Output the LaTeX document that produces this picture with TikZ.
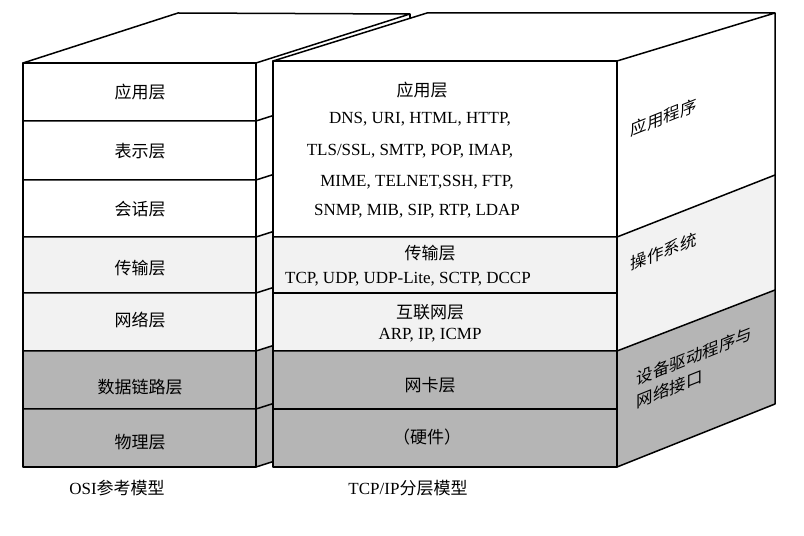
\documentclass[tikz,border=0pt]{standalone}
\usepackage{fontspec}
\setmainfont{Liberation Serif}
\newfontfamily\cjk{Noto Sans CJK SC}
\usetikzlibrary{calc}
\definecolor{lightband}{gray}{0.95}
\definecolor{darkband}{gray}{0.71}

\begin{document}
\begin{tikzpicture}[x=1pt,y=1pt,line width=1.5pt,line join=round,
    lab/.style={font=\cjk\fontsize{17}{19}\selectfont},
    proto/.style={font=\fontsize{17}{20}\selectfont},
    side/.style={font=\cjk\fontsize{16.5}{23}\selectfont,yslant=0.4,anchor=west,align=left,inner sep=0pt}]
    \useasboundingbox (0,0) rectangle (804,536);
    % --- OSI model: fills
    \fill[white] (23,299) rectangle (256,473);
    \fill[lightband] (23,185) rectangle (256,299);
    \fill[darkband] (23,69) rectangle (256,185);
    \foreach \ya/\yb/\c in {473/299/white,299/185/lightband,185/69/darkband}{
      \fill[\c] (256,\ya) -- (410,\ya+49) -- (410,\yb+49) -- (256,\yb) -- cycle;
    }
    \fill[white] (23,473) -- (178,523) -- (410,522) -- (256,473) -- cycle;
    % --- OSI model: lines
    \draw (23,473) -- (178,523) -- (410,522) -- (256,473);
    \draw (410,522) -- (410,118);
    \draw (23,69) rectangle (256,473);
    \foreach \y in {415,356,299,243,185,127}{\draw (23,\y) -- (256,\y) -- ++(154,49);}
    \draw (256,69) -- ++(154,49);
    % --- TCP/IP model: fills
    \fill[white] (273,299) rectangle (617,475);
    \fill[lightband] (273,185) rectangle (617,299);
    \fill[darkband] (273,69) rectangle (617,185);
    \fill[white] (273,475) -- (427,523) -- (775,523) -- (617,475) -- cycle;
    \fill[white] (617,475) -- (775,523) -- (775,361) -- (617,299) -- cycle;
    \fill[lightband] (617,299) -- (775,361) -- (775,246) -- (617,185) -- cycle;
    \fill[darkband] (617,185) -- (775,246) -- (775,132) -- (617,69) -- cycle;
    % --- TCP/IP model: lines
    \draw (273,475) -- (427,523) -- (775,523) -- (617,475);
    \draw (273,69) rectangle (617,475);
    \foreach \y in {243,127}{\draw (273,\y) -- (617,\y);}
    \draw (273,299) -- (617,299) -- (775,361);
    \draw (273,185) -- (617,185) -- (775,246);
    \draw (617,69) -- (775,132) -- (775,523);
    % --- OSI labels
    \foreach \t/\y [count=\i] in {应用层/444,表示层/385,会话层/327,传输层/268,网络层/216,数据链路层/149,物理层/94}{
      \node[lab] (osi\i) at (140,\y) {\t};
    }
    % --- TCP/IP labels
    \node[lab] (tapp) at (422,446) {应用层};
    \node[proto] (tapp1) at (420,417) {DNS, URI, HTML, HTTP,};
    \node[proto] (tapp2) at (410,385) {TLS/SSL, SMTP, POP, IMAP,};
    \node[proto] (tapp3) at (417,354) {MIME, TELNET,SSH, FTP,};
    \node[proto] (tapp4) at (417,325) {SNMP, MIB, SIP, RTP, LDAP};
    \node[lab] (ttrans) at (430,283) {传输层};
    \node[proto] (ttrans1) at (408,257) {TCP, UDP, UDP-Lite, SCTP, DCCP};
    \node[lab] (tnet) at (430,224) {互联网层};
    \node[proto] (tnet1) at (430,201) {ARP, IP, ICMP};
    \node[lab] (tnic) at (430,151) {网卡层};
    \node[lab] (thw) at (427,99) {（硬件）};
    % --- side face labels
    \node[side] (sapp) at (630,405) {应用程序};
    \node[side] (sos) at (630,271) {操作系统};
    \node[side] (sdrv) at (636,145) {设备驱动程序与\\网络接口};
    % --- captions
    \node[proto] (osicap) at (117,48) {OSI{\cjk 参考模型}};
    \node[proto] (tcpcap) at (408,48) {TCP/IP{\cjk 分层模型}};
  \end{tikzpicture}
\end{document}
